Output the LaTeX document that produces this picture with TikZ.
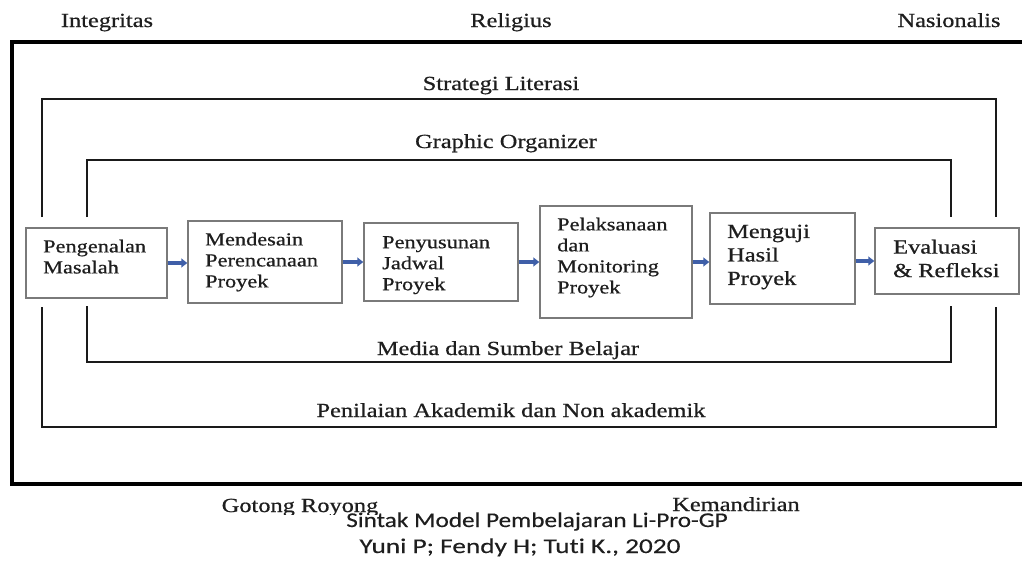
\documentclass[tikz,border=0pt]{standalone}
\usepackage{fontspec}
\setmainfont{Liberation Serif}[FakeStretch=1.22, FakeBold=0.7]
\newfontfamily\calfont{Carlito}[FakeStretch=1.2, FakeBold=0.3, Ligatures=NoCommon]
\newfontfamily\calfontb{Carlito}[FakeStretch=1.3, FakeBold=0.3, Ligatures=NoCommon]
\usetikzlibrary{arrows.meta}
\definecolor{txt}{HTML}{1E1E1E}
\definecolor{frm}{HTML}{1A1A1A}
\definecolor{bx}{HTML}{7A7A7A}
\definecolor{arrblue}{HTML}{3F5FA8}
\tikzset{
  lbl/.style={font=\fontsize{20}{24}\selectfont, inner sep=0pt, anchor=base, text=txt},
  outerline/.style={draw=black, line width=4pt, line join=miter},
  frameline/.style={draw=frm, line width=2.2pt, line join=miter},
  pbox/.style={draw=bx, line width=1.5pt, rectangle, inner sep=0pt},
  btxt/.style={font=\fontsize{18.3}{21}\selectfont, inner sep=0pt, anchor=north west, align=left, text=txt},
  btxtb/.style={font=\fontsize{20}{23.5}\selectfont, inner sep=0pt, anchor=north west, align=left, text=txt},
  arr/.style={draw=arrblue, line width=4pt, -{Triangle[length=6pt,width=9pt]}},
  captxt/.style={inner sep=0pt, anchor=base, text=txt}
}
\begin{document}
\begin{tikzpicture}[x=1pt,y=-1pt]
\useasboundingbox (0,0) rectangle (1022,565);
% outer thick frame (right side beyond the picture)
\draw[outerline] (1022,42) -- (12,42) -- (12,484) -- (1022,484);
% Strategi Literasi frame
\draw[frameline] (42,217) -- (42,99) -- (996,99) -- (996,217);
\draw[frameline] (42,307) -- (42,427) -- (996,427) -- (996,307);
% Graphic Organizer frame
\draw[frameline] (87,217) -- (87,160) -- (951,160) -- (951,217);
\draw[frameline] (87,306) -- (87,362) -- (951,362) -- (951,306);
% top labels
\node[lbl] (integ) at (107,27) {Integritas};
\node[lbl] (relig) at (511,27) {Religius};
\node[lbl] (nasio) at (949,27) {Nasionalis};
\node[lbl] (strat) at (501,90) {Strategi Literasi};
\node[lbl] (graph) at (506,148) {Graphic Organizer};
\node[lbl] (media) at (508,355) {Media dan Sumber Belajar};
\node[lbl] (penil) at (511,417) {Penilaian Akademik dan Non akademik};
% process boxes
\node[pbox, minimum width=141pt, minimum height=70pt] (b1) at (96.5,263) {};
\node[pbox, minimum width=154pt, minimum height=82pt] (b2) at (265,262) {};
\node[pbox, minimum width=154pt, minimum height=78pt] (b3) at (441,262) {};
\node[pbox, minimum width=152pt, minimum height=112pt] (b4) at (616,262) {};
\node[pbox, minimum width=145pt, minimum height=91pt] (b5) at (782.5,258.5) {};
\node[pbox, minimum width=144pt, minimum height=66pt] (b6) at (947,261) {};
\node[btxt] (t1) at (43,239.5) {Pengenalan\\Masalah};
\node[btxt] (t2) at (205,232.5) {Mendesain\\Perencanaan\\Proyek};
\node[btxt] (t3) at (382,236) {Penyusunan\\Jadwal\\Proyek};
\node[btxt] (t4) at (557,217.5) {Pelaksanaan\\dan\\Monitoring\\Proyek};
\node[btxtb] (t5) at (727,224.5) {Menguji\\Hasil\\Proyek};
\node[btxtb] (t6) at (893,239.5) {Evaluasi\\\& Refleksi};
% arrows
\draw[arr] (b1.east) -- (b1.east -| b2.west);
\draw[arr] (b2.east) -- (b2.east -| b3.west);
\draw[arr] (b3.east) -- (b3.east -| b4.west);
\draw[arr] (b4.east) -- (b4.east -| b5.west);
\draw[arr] (b5.east |- b6.west) -- (b6.west);
% bottom labels
\begin{scope}
\clip (200,490) rectangle (420,514);
\node[lbl] (goton) at (300,512) {Gotong Royong};
\end{scope}
\node[lbl] (keman) at (736,511) {Kemandirian};
\node[captxt, font=\calfont\fontsize{21}{24}\selectfont] (sintak) at (537,527) {Sintak Model Pembelajaran Li-Pro-GP};
\node[captxt, font=\calfontb\fontsize{21}{24}\selectfont] (yuni) at (520,553) {Yuni P; Fendy H; Tuti K., 2020};
\end{tikzpicture}
\end{document}
